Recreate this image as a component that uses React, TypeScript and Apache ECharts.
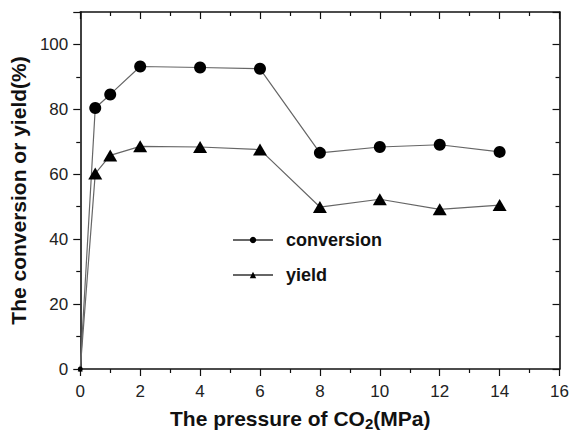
import React, { useEffect, useRef } from "react";
import * as echarts from "echarts";

const pressure = [0, 0.5, 1, 2, 4, 6, 8, 10, 12, 14];
const conversion = [0, 80.4, 84.6, 93.2, 92.9, 92.5, 66.6, 68.4, 69.1, 66.9];
const yieldVals = [0, 60.2, 65.8, 68.6, 68.4, 67.6, 49.9, 52.3, 49.2, 50.5];
const xTickLabels = ["0", "2", "4", "6", "8", "10", "12", "14", "16"];
const yTickLabels = ["0", "20", "40", "60", "80", "100"];

export default function App() {
  const ref = useRef<HTMLDivElement>(null);
  useEffect(() => {
    if (!ref.current) return;
    document.body.style.margin = "0";
    document.body.style.overflow = "hidden";
    const chart = echarts.init(ref.current, undefined, { renderer: "svg" });
    const font = "Liberation Sans, Arial, sans-serif";
    const axisLine = { show: true, onZero: false, lineStyle: { color: "#111", width: 1.6 } };
    const tickOut = { show: true, inside: false, length: 7, lineStyle: { color: "#111", width: 1.2 } };
    const tickIn = { show: true, inside: true, length: 7, lineStyle: { color: "#111", width: 1.2 } };
    const minor = { show: true, splitNumber: 2, length: 4, lineStyle: { color: "#111", width: 1.2 } };
    const lineColor = "#666";
    chart.setOption({
      animation: false,
      backgroundColor: "#fff",
      grid: { left: 80, right: 10, top: 12, bottom: 64, containLabel: false },
      legend: {
        orient: "vertical",
        left: 227,
        top: 226,
        itemWidth: 40,
        itemHeight: 8,
        itemGap: 17,
        textStyle: { fontFamily: font, fontWeight: "bold", fontSize: 18, color: "#111", padding: [0, 0, 0, 8] },
        data: ["conversion", "yield"],
      },
      graphic: [
        {
          type: "text",
          left: 170,
          top: 408,
          style: {
            text: "{t|The pressure of CO}{s|2}{t|(MPa)}",
            rich: {
              t: { fontFamily: font, fontWeight: "bold", fontSize: 21, fill: "#111" },
              s: { fontFamily: font, fontWeight: "bold", fontSize: 15, fill: "#111", padding: [10, 0, 0, 0] },
            },
          },
        },
      ],
      xAxis: [
        {
          type: "value",
          min: 0,
          max: 16,
          interval: 2,
          position: "bottom",
          axisLine,
          axisTick: tickOut,
          minorTick: minor,
          splitLine: { show: false },
          minorSplitLine: { show: false },
          axisLabel: {
            fontFamily: font,
            fontSize: 17,
            color: "#222",
            margin: 14,
            formatter: (v: number) => (xTickLabels.includes(String(v)) ? String(v) : ""),
          },
        },
        {
          type: "value",
          min: 0,
          max: 16,
          interval: 2,
          position: "top",
          axisLine,
          axisTick: tickIn,
          minorTick: minor,
          splitLine: { show: false },
          axisLabel: { show: false },
        },
      ],
      yAxis: [
        {
          type: "value",
          min: 0,
          max: 110,
          interval: 20,
          position: "left",
          axisLine,
          axisTick: tickOut,
          minorTick: minor,
          splitLine: { show: false },
          axisLabel: {
            fontFamily: font,
            fontSize: 17,
            color: "#222",
            margin: 12,
            formatter: (v: number) => (yTickLabels.includes(String(v)) ? String(v) : ""),
          },
          name: "The conversion or yield(%)",
          nameLocation: "middle",
          nameGap: 47,
          nameTextStyle: { fontFamily: font, fontWeight: "bold", fontSize: 21, color: "#111" },
        },
        {
          type: "value",
          min: 0,
          max: 110,
          interval: 20,
          position: "right",
          axisLine,
          axisTick: tickIn,
          minorTick: minor,
          splitLine: { show: false },
          axisLabel: { show: false },
        },
      ],
      series: [
        {
          name: "conversion",
          type: "line",
          data: pressure.map((x, i) => [x, conversion[i]]),
          symbol: "circle",
          symbolSize: (v: number[]) => (v[0] === 0 ? 5 : 12),
          lineStyle: { color: lineColor, width: 1.2 },
          itemStyle: { color: "#000" },
          showAllSymbol: true,
        },
        {
          name: "yield",
          type: "line",
          data: pressure.map((x, i) => [x, yieldVals[i]]),
          symbol: "triangle",
          symbolSize: (v: number[]) => (v[0] === 0 ? 5 : [14, 12]),
          lineStyle: { color: lineColor, width: 1.2 },
          itemStyle: { color: "#000" },
          showAllSymbol: true,
        },
      ],
    });
    return () => chart.dispose();
  }, []);
  return <div ref={ref} style={{ width: 572, height: 433 }} />;
}
